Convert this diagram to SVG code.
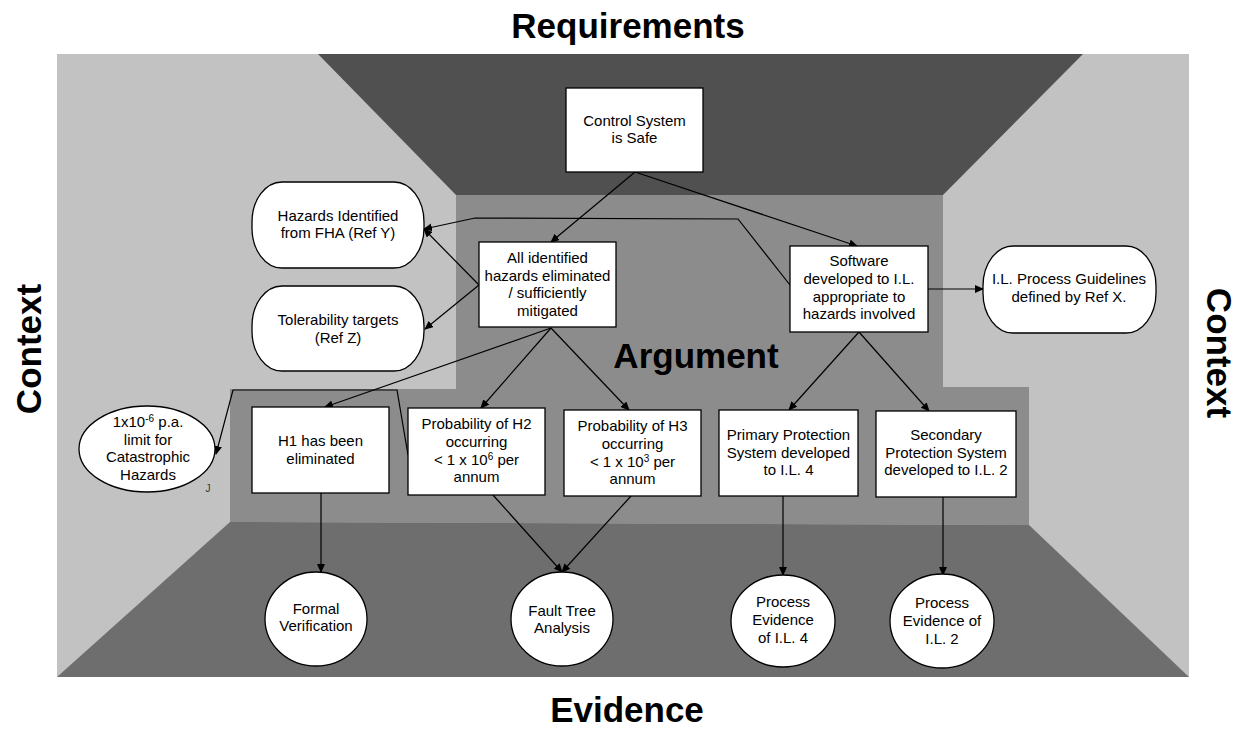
<svg xmlns="http://www.w3.org/2000/svg" width="1239" height="729" viewBox="0 0 1239 729">
<defs>
<style>
.lbl{font-family:"Liberation Sans",Arial,sans-serif;font-size:15px;fill:#000;text-anchor:middle}
.ttl{font-family:"Liberation Sans",Arial,sans-serif;font-size:35px;font-weight:bold;fill:#000;text-anchor:middle}
.box{fill:#fff;stroke:#000;stroke-width:1.3}
.con{fill:none;stroke:#000;stroke-width:1.2}
</style>
<marker id="arr" markerUnits="userSpaceOnUse" markerWidth="9" markerHeight="8" refX="8" refY="4" orient="auto">
<path d="M0,0 L9,4 L0,8 z" fill="#000"/>
</marker>
</defs>
<rect width="1239" height="729" fill="#fff"/>
<g id="room">
<rect x="57" y="54" width="1132" height="623" fill="#c2c2c2"/>
<polygon points="318,54 1083,54 943,195 456,195" fill="#505050"/>
<polygon points="456,195 943,195 943,387 1029,387 1029,525 230,522 230,389 456,389" fill="#8c8c8c"/>
<polygon points="230,522 1029,525 1189,677 57,677" fill="#6e6e6e"/>
</g>
<text class="ttl" x="628" y="38">Requirements</text>
<text class="ttl" x="627" y="722">Evidence</text>
<text class="ttl" transform="translate(41,349) rotate(-90)">Context</text>
<text class="ttl" transform="translate(1207,353) rotate(90)">Context</text>
<text class="ttl" x="696" y="368">Argument</text>
<g id="connectors">
<line class="con" x1="635" y1="172" x2="551" y2="242" marker-end="url(#arr)"/>
<line class="con" x1="635" y1="172" x2="857" y2="246" marker-end="url(#arr)"/>
<line class="con" x1="479" y1="285" x2="424" y2="229" marker-end="url(#arr)"/>
<line class="con" x1="479" y1="285" x2="425" y2="329" marker-end="url(#arr)"/>
<polyline class="con" points="790,285 738,219 475,218 424,229" marker-end="url(#arr)"/>
<line class="con" x1="928" y1="289" x2="983" y2="289" marker-end="url(#arr)"/>
<line class="con" x1="551" y1="328" x2="325" y2="407" marker-end="url(#arr)"/>
<line class="con" x1="551" y1="328" x2="481" y2="408" marker-end="url(#arr)"/>
<line class="con" x1="551" y1="328" x2="629" y2="410" marker-end="url(#arr)"/>
<line class="con" x1="859" y1="332" x2="789" y2="410" marker-end="url(#arr)"/>
<line class="con" x1="859" y1="332" x2="929" y2="411" marker-end="url(#arr)"/>
<polyline class="con" points="408,455 397,390 233,390 216,454" marker-end="url(#arr)"/>
<line class="con" x1="321" y1="493" x2="321" y2="572" marker-end="url(#arr)"/>
<line class="con" x1="493" y1="495" x2="562" y2="572" marker-end="url(#arr)"/>
<line class="con" x1="631" y1="496" x2="562" y2="572" marker-end="url(#arr)"/>
<line class="con" x1="783" y1="496" x2="783" y2="575" marker-end="url(#arr)"/>
<line class="con" x1="943" y1="497" x2="943" y2="575" marker-end="url(#arr)"/>
</g>
<g id="control">
<rect class="box" x="566" y="88" width="137" height="84"/>
<text class="lbl" x="634.5" y="126">Control System</text>
<text class="lbl" x="634.5" y="143">is Safe</text>
</g>
<g id="hazards-identified">
<rect class="box" x="252" y="182" width="172" height="86" rx="30" ry="40"/>
<text class="lbl" x="338" y="221">Hazards Identified</text>
<text class="lbl" x="338" y="238">from FHA (Ref Y)</text>
</g>
<g id="tolerability">
<rect class="box" x="252" y="286" width="172" height="85" rx="30" ry="40"/>
<text class="lbl" x="338" y="325">Tolerability targets</text>
<text class="lbl" x="338" y="343">(Ref Z)</text>
</g>
<g id="all-identified">
<rect class="box" x="479" y="242" width="137" height="85"/>
<text class="lbl" x="547.5" y="263">All identified</text>
<text class="lbl" x="547.5" y="281">hazards eliminated</text>
<text class="lbl" x="547.5" y="298">/ sufficiently</text>
<text class="lbl" x="547.5" y="316">mitigated</text>
</g>
<g id="software">
<rect class="box" x="790" y="246" width="138" height="86"/>
<text class="lbl" x="859" y="266">Software</text>
<text class="lbl" x="859" y="284">developed to I.L.</text>
<text class="lbl" x="859" y="302">appropriate to</text>
<text class="lbl" x="859" y="319">hazards involved</text>
</g>
<g id="il-guidelines">
<rect class="box" x="983" y="246" width="173" height="87" rx="30" ry="40"/>
<text class="lbl" x="1069" y="284">I.L. Process Guidelines</text>
<text class="lbl" x="1069" y="302">defined by Ref X.</text>
</g>
<g id="catastrophic-limit">
<ellipse class="box" cx="147" cy="449" rx="68" ry="43"/>
<text class="lbl" x="148" y="427">1x10<tspan dy="-5" font-size="10">-6</tspan><tspan dy="5"> p.a.</tspan></text>
<text class="lbl" x="148" y="445">limit for</text>
<text class="lbl" x="148" y="462">Catastrophic</text>
<text class="lbl" x="148" y="480">Hazards</text>
<text x="208" y="492" font-family="Liberation Sans,Arial,sans-serif" font-size="10" fill="#333" text-anchor="middle">J</text>
</g>
<g id="h1">
<rect class="box" x="252" y="407" width="137" height="86"/>
<text class="lbl" x="320.5" y="446">H1 has been</text>
<text class="lbl" x="320.5" y="464">eliminated</text>
</g>
<g id="h2">
<rect class="box" x="408" y="408" width="137" height="87"/>
<text class="lbl" x="476.5" y="429">Probability of H2</text>
<text class="lbl" x="476.5" y="447">occurring</text>
<text class="lbl" x="476.5" y="465">&lt; 1 x 10<tspan dy="-5" font-size="10">6</tspan><tspan dy="5"> per</tspan></text>
<text class="lbl" x="476.5" y="482">annum</text>
</g>
<g id="h3">
<rect class="box" x="564" y="410" width="137" height="86"/>
<text class="lbl" x="632.5" y="431">Probability of H3</text>
<text class="lbl" x="632.5" y="449">occurring</text>
<text class="lbl" x="632.5" y="467">&lt; 1 x 10<tspan dy="-5" font-size="10">3</tspan><tspan dy="5"> per</tspan></text>
<text class="lbl" x="632.5" y="484">annum</text>
</g>
<g id="primary">
<rect class="box" x="719" y="410" width="139" height="86"/>
<text class="lbl" x="788.5" y="440">Primary Protection</text>
<text class="lbl" x="788.5" y="458">System developed</text>
<text class="lbl" x="788.5" y="475">to I.L. 4</text>
</g>
<g id="secondary">
<rect class="box" x="876" y="411" width="140" height="86"/>
<text class="lbl" x="946" y="440">Secondary</text>
<text class="lbl" x="946" y="458">Protection System</text>
<text class="lbl" x="946" y="475">developed to I.L. 2</text>
</g>
<g id="formal-verification">
<ellipse class="box" cx="316" cy="619" rx="51" ry="47"/>
<text class="lbl" x="316" y="614">Formal</text>
<text class="lbl" x="316" y="631">Verification</text>
</g>
<g id="fault-tree">
<ellipse class="box" cx="562" cy="619" rx="51" ry="47"/>
<text class="lbl" x="562" y="616">Fault Tree</text>
<text class="lbl" x="562" y="633">Analysis</text>
</g>
<g id="process-il4">
<ellipse class="box" cx="783" cy="621" rx="52" ry="46"/>
<text class="lbl" x="783" y="607">Process</text>
<text class="lbl" x="783" y="625">Evidence</text>
<text class="lbl" x="783" y="643">of I.L. 4</text>
</g>
<g id="process-il2">
<ellipse class="box" cx="942" cy="621" rx="52" ry="47"/>
<text class="lbl" x="942" y="608">Process</text>
<text class="lbl" x="942" y="626">Evidence of</text>
<text class="lbl" x="942" y="644">I.L. 2</text>
</g>
</svg>
